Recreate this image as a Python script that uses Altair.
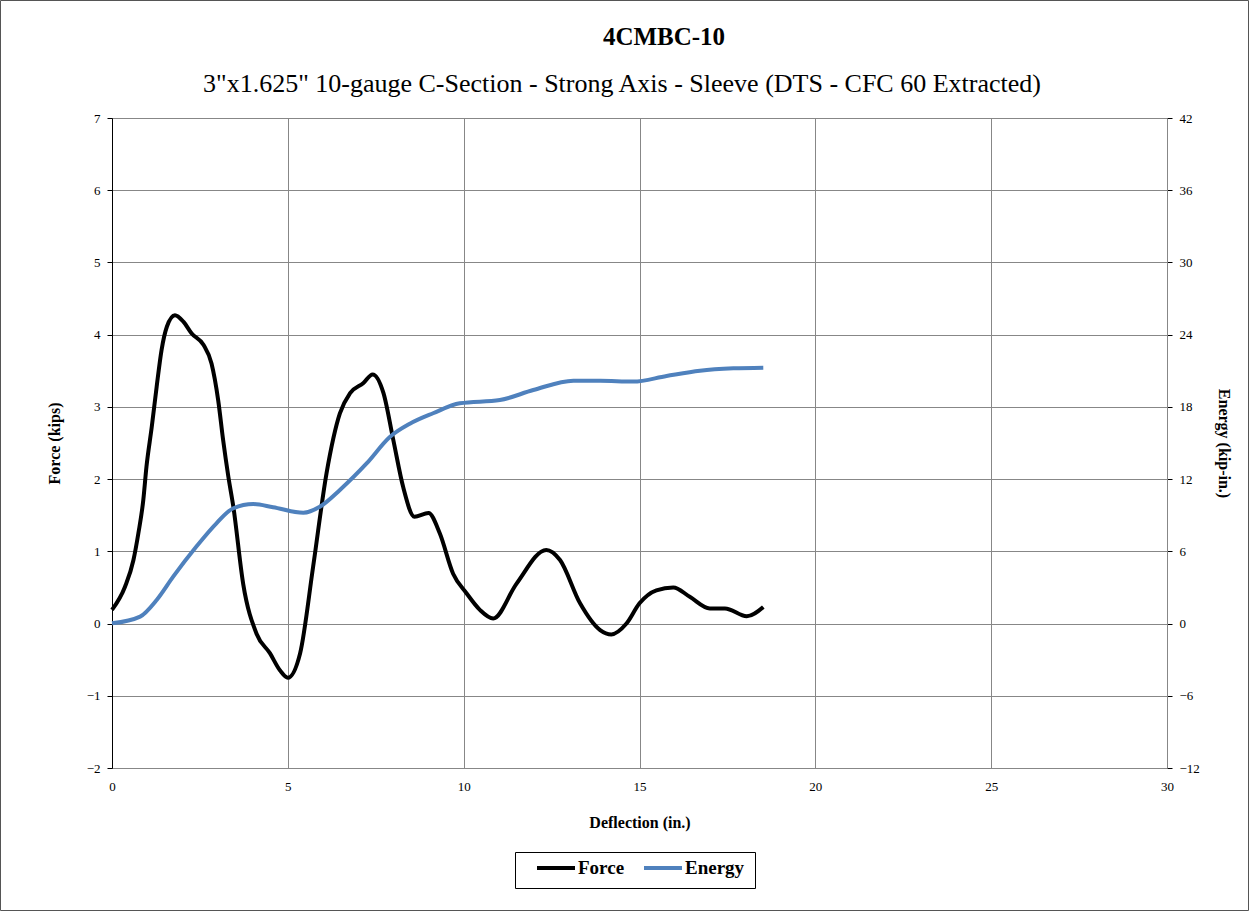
import altair as alt
import pandas as pd

force_x = [0.0, 0.37, 0.61, 0.75, 0.89, 0.98, 1.13, 1.27, 1.41, 1.56, 1.79, 2.03, 2.26, 2.60, 2.83, 3.02,
           3.16, 3.31, 3.45, 3.73,
           4.11, 4.49, 4.78, 5.0, 5.35, 5.72, 6.10, 6.48, 6.77, 7.15, 7.41, 7.72, 8.0, 8.28, 8.6, 9.0,
           9.32, 9.70, 10.08, 10.46, 10.84, 11.5, 12.35, 12.74, 13.31, 13.88, 14.2, 14.63, 15.0, 15.48,
           15.96, 16.43, 17.0, 17.43, 18.05, 18.52]
force_y = [0.19, 0.51, 0.88, 1.25, 1.71, 2.17, 2.72, 3.28, 3.79, 4.11, 4.27, 4.18, 4.02, 3.86, 3.60, 3.09,
           2.54, 2.03, 1.62, 0.55,
           -0.14, -0.41, -0.65, -0.75, -0.41, 0.79, 2.08, 2.91, 3.19, 3.33, 3.45, 3.19, 2.54, 1.89, 1.48, 1.53,
           1.25, 0.69, 0.42, 0.19, 0.07, 0.55, 1.02, 0.88, 0.28, -0.09, -0.15, 0.0, 0.28, 0.46,
           0.50, 0.37, 0.21, 0.21, 0.10, 0.23]

energy_x = [0.0, 0.8, 1.27, 1.74, 2.40, 2.97, 3.45, 4.02, 4.58, 5.44, 5.91, 6.48, 7.24, 7.9, 8.47, 9.13,
            9.89, 11.03, 11.98, 13.12, 13.88, 14.82, 15.77, 16.72, 17.67, 18.52]
energy_y = [0.02, 0.58, 1.96, 3.9, 6.4, 8.33, 9.58, 9.93, 9.66, 9.21, 9.71, 11.1, 13.3, 15.5, 16.6, 17.47,
            18.3, 18.57, 19.4, 20.18, 20.18, 20.1, 20.57, 21.0, 21.2, 21.26]

x_ticks = [0, 5, 10, 15, 20, 25, 30]
force_ticks = [-2, -1, 0, 1, 2, 3, 4, 5, 6, 7]
energy_ticks = [-12, -6, 0, 6, 12, 18, 24, 30, 36, 42]

title_text = "4CMBC-10"
subtitle_text = '3"x1.625" 10-gauge C-Section - Strong Axis - Sleeve (DTS - CFC 60 Extracted)'

df_f = pd.DataFrame({"x": force_x, "Force": force_y, "series": "Force"})
df_e = pd.DataFrame({"x": energy_x, "Energy": energy_y, "series": "Energy"})

FONT = "Liberation Serif"
GRID = "#878787"

color = alt.Color(
    "series:N",
    scale=alt.Scale(domain=["Force", "Energy"], range=["#000000", "#4F81BD"]),
    legend=alt.Legend(
        title=None, orient="none", legendX=403, legendY=734, direction="horizontal",
        strokeColor="#000000", padding=10, fillColor="white", clipHeight=12,
        symbolType="stroke", symbolSize=1444, symbolStrokeWidth=4, symbolOffset=10,
        labelFont=FONT, labelFontSize=19, labelFontWeight="bold", labelColor="#000000",
        columnPadding=7, labelOffset=1, labelLimit=200,
    ),
)

xenc = alt.X(
    "x:Q",
    scale=alt.Scale(domain=[0, 30], nice=False),
    axis=alt.Axis(
        title="Deflection (in.)", values=x_ticks, grid=True, gridColor=GRID,
        titleFont=FONT, titleFontSize=16, titleFontWeight="bold", titlePadding=21,
        labelFont=FONT, labelFontSize=13, labelColor="#000000", labelPadding=12,
        labelFlush=False, domainColor=GRID, ticks=False,
    ),
)

force = alt.Chart(df_f).mark_line(strokeWidth=4, interpolate="monotone").encode(
    x=xenc,
    y=alt.Y(
        "Force:Q",
        scale=alt.Scale(domain=[-2, 7], nice=False),
        axis=alt.Axis(
            title="Force (kips)", values=force_ticks, grid=True, gridColor=GRID,
            titleFont=FONT, titleFontSize=16, titleFontWeight="bold", titlePadding=24,
            labelFont=FONT, labelFontSize=13, labelColor="#000000", labelPadding=7,
            labelFlush=False, domainColor="#000000", tickColor="#000000", tickSize=5,
        ),
    ),
    color=color,
)

energy = alt.Chart(df_e).mark_line(strokeWidth=4, interpolate="monotone").encode(
    x=xenc,
    y=alt.Y(
        "Energy:Q",
        scale=alt.Scale(domain=[-12, 42], nice=False),
        axis=alt.Axis(
            title="Energy (kip-in.)", orient="right", values=energy_ticks, grid=False,
            titleFont=FONT, titleFontSize=16, titleFontWeight="bold", titlePadding=16,
            labelFont=FONT, labelFontSize=13, labelColor="#000000", labelPadding=7,
            labelFlush=False, domainColor=GRID, tickColor="#000000", tickSize=5,
        ),
    ),
    color=color,
)

title_mark = alt.Chart(pd.DataFrame({"t": [title_text]})).mark_text(
    font=FONT, fontSize=25, fontWeight="bold", color="#000000", align="center", baseline="alphabetic"
).encode(text="t:N", x=alt.value(552), y=alt.value(-73))

subtitle_mark = alt.Chart(pd.DataFrame({"t": [subtitle_text]})).mark_text(
    font=FONT, fontSize=26, color="#000000", align="center", baseline="alphabetic"
).encode(text="t:N", x=alt.value(510), y=alt.value(-26))

border = alt.Chart(pd.DataFrame({"a": [0]})).mark_rect(
    fill=None, stroke="#555555", strokeWidth=1
).encode(
    x=alt.value(-111.5), x2=alt.value(1136.5), y=alt.value(-117.5), y2=alt.value(792.5)
)

chart = alt.layer(force, energy, title_mark, subtitle_mark, border).resolve_scale(y="independent").properties(
    width=1055,
    height=650,
    padding={"left": 112, "top": 118, "right": 82, "bottom": 143},
    autosize=alt.AutoSizeParams(type="none"),
).configure_view(stroke=GRID).configure(background="white")

chart.save("out.html", embed_options={"renderer": "svg", "actions": False})
